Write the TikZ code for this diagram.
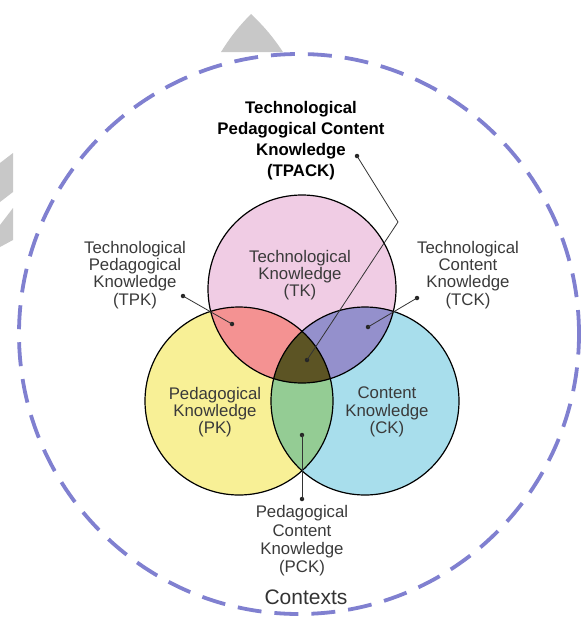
\documentclass[tikz,border=0pt]{standalone}
\usepackage{fontspec}
\setmainfont{Liberation Sans}
\usepackage{xcolor}
\usepackage{tikz}
\usetikzlibrary{positioning, arrows.meta}

\definecolor{tkfill}{RGB}{240,204,228}
\definecolor{pkfill}{RGB}{248,240,150}
\definecolor{ckfill}{RGB}{168,222,236}
\definecolor{tpkfill}{RGB}{244,146,146}
\definecolor{tckfill}{RGB}{148,144,204}
\definecolor{pckfill}{RGB}{148,204,148}
\definecolor{tpackfill}{RGB}{92,84,36}
\definecolor{ctxblue}{RGB}{128,128,208}
\definecolor{labelgray}{RGB}{58,58,58}
\definecolor{markgray}{RGB}{200,200,200}

\begin{document}
\begin{tikzpicture}[
    x=1pt, y=-1pt,
    venn/.style={draw=black, line width=1.2pt},
    lbl/.style={align=center, inner sep=0pt, text=labelgray, font=\fontsize{16.8}{17.2}\selectfont},
    title/.style={align=center, inner sep=0pt, font=\fontsize{16.8}{21}\selectfont\bfseries},
    dot/.style={circle, fill=black!85, inner sep=0pt, minimum size=4.5pt},
    leader/.style={draw=black!80, line width=0.8pt},
    contextline/.style={draw=ctxblue, line width=3.8pt, dash pattern=on 24pt off 13pt}
]
\useasboundingbox (0,0) rectangle (584,619);

% Background marks
\fill[markgray] (221,52) to[bend left=6] (251,14) to[bend left=6] (283,52) -- cycle;
\fill[markgray] (0,163) -- (13,153) -- (13,192) -- (0,202) -- cycle;
\fill[markgray] (0,225) -- (13,208) -- (13,240) -- (0,247) -- cycle;

% Contexts
\coordinate (ctx) at (299,334);
\draw[contextline] (ctx) circle[radius=280pt];

% Circle centres
\coordinate (tk) at (302,289);
\coordinate (pk) at (239,401);
\coordinate (ck) at (365,401);

% Fills
\fill[tkfill] (tk) circle[radius=94pt];
\fill[pkfill] (pk) circle[radius=94pt];
\fill[ckfill] (ck) circle[radius=94pt];
\begin{scope}
    \clip (pk) circle[radius=94pt];
    \fill[pckfill] (ck) circle[radius=94pt];
\end{scope}
\begin{scope}
    \clip (tk) circle[radius=94pt];
    \fill[tpkfill] (pk) circle[radius=94pt];
    \fill[tckfill] (ck) circle[radius=94pt];
    \clip (pk) circle[radius=94pt];
    \fill[tpackfill] (ck) circle[radius=94pt];
\end{scope}

% Outlines
\draw[venn] (tk) circle[radius=94pt];
\draw[venn] (pk) circle[radius=94pt];
\draw[venn] (ck) circle[radius=94pt];

% Circle texts
\node[lbl] (tktext) at (300,275) {Technological\\Knowledge\\(TK)};
\node[lbl] (pktext) at (215,412) {Pedagogical\\Knowledge\\(PK)};
\node[lbl] (cktext) at (387,412) {Content\\Knowledge\\(CK)};

% Outside labels
\node[title] (tpacktext) at (301,141) {Technological\\Pedagogical Content\\Knowledge\\(TPACK)};
\node[lbl] (tpktext) at (135,275) {Technological\\Pedagogical\\Knowledge\\(TPK)};
\node[lbl] (tcktext) at (468,275) {Technological\\Content\\Knowledge\\(TCK)};
\node[lbl, font=\fontsize{16.8}{18.3}\selectfont] (pcktext) at (302,541) {Pedagogical\\Content\\Knowledge\\(PCK)};
\node[lbl, text=black!80, font=\fontsize{21}{23}\selectfont] (ctxtext) at (306,597) {Contexts};

% Dots
\node[dot] (tpacklbl) at (357,156) {};
\coordinate (tpackbend) at (398,222);
\node[dot] (tpackdot) at (307,360) {};
\node[dot] (tpklbl) at (183,296) {};
\node[dot] (tpkdot) at (232,324) {};
\node[dot] (tcklbl) at (417,298) {};
\node[dot] (tckdot) at (368,327) {};
\node[dot] (pckdot) at (302,435) {};
\node[dot] (pcklbl) at (302,499) {};

% Leaders
\draw[leader] (tpacklbl.center) -- (tpackbend) -- (tpackdot.center);
\draw[leader] (tpklbl.center) -- (tpkdot.center);
\draw[leader] (tcklbl.center) -- (tckdot.center);
\draw[leader] (pckdot.center) -- (pcklbl.center);
\end{tikzpicture}
\end{document}
